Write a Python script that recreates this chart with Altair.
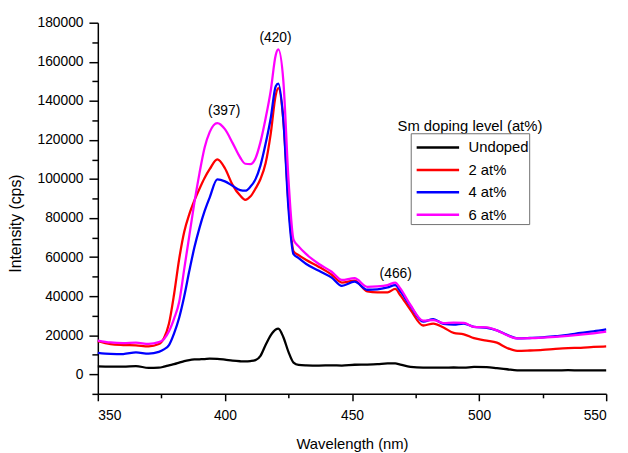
import altair as alt
import pandas as pd

wavelength = [350, 355, 360, 365, 370, 374, 376, 378, 380, 382, 384, 386, 388, 390, 392, 394, 397,
              400, 403, 406, 408, 410, 412, 414, 416, 418, 420, 421, 423, 425, 427, 429, 432, 437,
              442, 446, 451, 456, 460, 464, 467, 469, 473, 478, 482, 486, 490, 494, 498, 503, 507,
              511, 515, 520, 525, 530, 535, 540, 545, 550]

undoped = [4100, 4000, 4000, 4200, 3300, 3400, 3900, 4600, 5200, 6000, 6800, 7300, 7600, 7700, 7800,
           8000, 7900, 7500, 7000, 6700, 6600, 6800, 7300, 9500, 15000, 20000, 23000, 23400, 19000,
           11500, 6000, 4800, 4600, 4500, 4600, 4500, 4900, 5000, 5200, 5600, 5600, 5000, 3800, 3400,
           3400, 3400, 3500, 3400, 3800, 3700, 3200, 2600, 2000, 2000, 2000, 2000, 2100, 2000, 2000, 2000]

at2 = [17000, 15500, 15000, 14800, 14300, 15500, 18500, 26000, 41000, 59000, 73000, 82000, 89000,
       95000, 100500, 105000, 110000, 105500, 97000, 91500, 89300, 91000, 95000, 100000, 108000,
       123000, 143000, 146500, 130000, 88000, 63000, 61000, 58500, 55000, 51000, 47000, 48000, 42500,
       42000, 42000, 43700, 40500, 33000, 25000, 26000, 24000, 21200, 20500, 18500, 17300, 16200,
       13500, 12000, 12200, 12500, 13000, 13400, 13600, 14000, 14300]

at4 = [11000, 10500, 10400, 11200, 10600, 11500, 12800, 15000, 21000, 29000, 40000, 53000, 65000,
       75000, 83500, 90500, 99800, 98800, 96500, 94300, 94000, 96000, 99800, 107000, 118000, 131000,
       147500, 148800, 130000, 85000, 61500, 59500, 56500, 53000, 49500, 45300, 47400, 43300, 43500,
       44500, 45700, 42500, 35000, 27000, 28300, 25800, 25500, 26000, 24300, 23800, 22500, 20200,
       18400, 18600, 18900, 19500, 20200, 21200, 22000, 23000]

at6 = [17300, 16300, 16000, 16200, 15600, 16500, 18000, 22000, 28500, 37000, 54000, 71000, 88000,
       103000, 116000, 124000, 128600, 125500, 118500, 111000, 107800, 107600, 110500, 119000, 131000,
       145000, 163500, 166300, 150000, 100000, 69000, 65500, 61500, 56500, 52500, 48300, 49200, 44800,
       45000, 45700, 47000, 44000, 35500, 27500, 27800, 26200, 26500, 26300, 24300, 24000, 22500,
       20000, 18400, 18500, 18800, 19200, 19700, 20300, 21000, 21800]

series_names = ["Undoped", "2 at%", "4 at%", "6 at%"]
series_colors = ["#000000", "#ff0000", "#0000ff", "#ff00ff"]

note_text = ["(397)", "(420)", "(466)", "Sm doping level (at%)"]
note_x = [399.7, 419.9, 467.2, 496.4]
note_y = [135000, 172400, 51200, 127000]
note_size = [14, 14, 14, 15]

x_major = [350, 400, 450, 500, 550]
x_minor = [375, 425, 475, 525]
y_major = list(range(0, 180001, 20000))
y_minor = list(range(-10000, 180001, 20000))

rows = []
for name, vals in zip(series_names, [undoped, at2, at4, at6]):
    for i, (w, v) in enumerate(zip(wavelength, vals)):
        rows.append({"wl": w, "I": v, "series": name, "order": i})
df = pd.DataFrame(rows)
notes = pd.DataFrame({"wl": note_x, "I": note_y, "t": note_text, "s": note_size})

FONT = "Liberation Sans"
xscale = alt.Scale(domain=[350, 550], nice=False, zero=False)
yscale = alt.Scale(domain=[-10000, 180000], nice=False, zero=False)

lines = alt.Chart(df).mark_line(strokeWidth=2.3, interpolate="monotone").encode(
    x=alt.X("wl:Q", scale=xscale,
            axis=alt.Axis(title="Wavelength (nm)", values=x_major, tickSize=7, labelPadding=8,
                          titleFontSize=15, titleY=43, titleFontWeight="normal")),
    y=alt.Y("I:Q", scale=yscale,
            axis=alt.Axis(title="Intensity (cps)", values=y_major, tickSize=9, labelPadding=6,
                          format="d", titleFontSize=16, titleFontWeight="normal",
                          titleX=-83, titleY=203, titleBaseline="middle")),
    color=alt.Color("series:N", sort=series_names,
                    scale=alt.Scale(domain=series_names, range=series_colors),
                    legend=alt.Legend(title=" ", titleFontSize=1, titlePadding=4.4,
                                      orient="none", legendX=317, legendY=112,
                                      offset=0, symbolOffset=4.5, columns=1,
                                      symbolType="stroke", symbolSize=1849, symbolStrokeWidth=2.5,
                                      clipHeight=18, rowPadding=4.7, labelFontSize=15,
                                      labelFont=FONT, labelFontWeight="normal", labelOffset=8,
                                      labelExpr="datum.label + ' '",
                                      padding=0, strokeColor="#707070", labelColor="black")),
    order="order:Q",
)

texts = alt.Chart(notes).mark_text(font=FONT, color="black", baseline="middle", align="center").encode(
    x=alt.X("wl:Q", scale=xscale,
            axis=alt.Axis(title=None, values=x_minor, labels=False, tickSize=4, domain=False,
                          orient="bottom")),
    y=alt.Y("I:Q", scale=yscale,
            axis=alt.Axis(title=None, values=y_minor, labels=False, tickSize=6, domain=False,
                          orient="left")),
    text="t:N",
    size=alt.Size("s:Q", scale=None, legend=None),
)

chart = alt.layer(lines, texts).resolve_axis(x="independent", y="independent").properties(
    width=515, height=376,
    autosize=alt.AutoSizeParams(type="none"),
    padding={"left": 91, "top": 12, "right": 14, "bottom": 57},
).configure_view(stroke=None).configure_axis(
    grid=False, domainColor="black", tickColor="black", labelColor="black", titleColor="black",
    labelFont=FONT, titleFont=FONT, labelFontSize=14, domainWidth=1.5, tickWidth=1.5,
)

chart.save("out.html", embed_options={"renderer": "svg", "actions": False})
